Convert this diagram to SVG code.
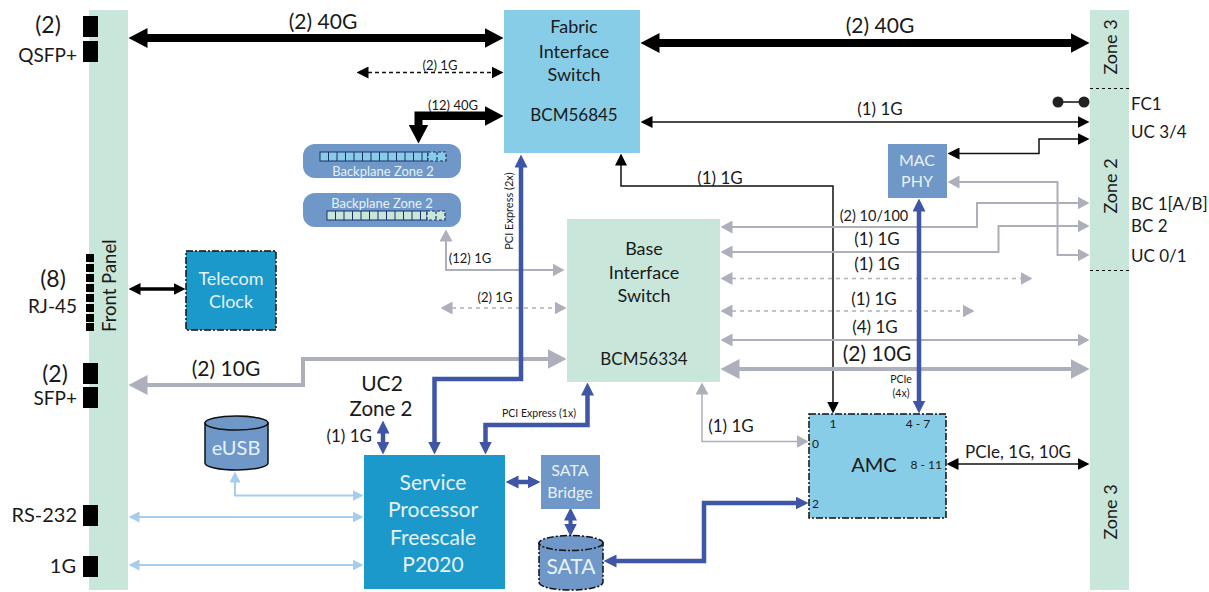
<svg xmlns="http://www.w3.org/2000/svg" width="1209" height="592" viewBox="0 0 1209 592">
<style>
text{font-family:"Lato","Noto Sans","Liberation Sans",sans-serif;fill:#1a1a1a;font-size:18px}
.m{text-anchor:middle}.e{text-anchor:end}
.w{fill:#e6f2f8}.sm{font-size:12px}.s13{font-size:13px}.l{font-size:19px}.n{font-size:17px}.xl{font-size:21px}.p{font-size:23px}.t{font-size:10.500px}
.bar{fill:#c9e6db}.blk{fill:#000}
.bd{stroke:#111;stroke-width:1.5;stroke-dasharray:7 2 2 2}
.cn{fill:none}
.k8{stroke:#000;stroke-width:8}.k4{stroke:#000;stroke-width:3.500}.k{stroke:#111;stroke-width:1.5}
.kd{stroke:#111;stroke-width:1.5;stroke-dasharray:4 3}
.g{stroke:#adb0ba;stroke-width:2}.g4{stroke:#adb0ba;stroke-width:4}.gd{stroke:#adb0ba;stroke-width:1.5;stroke-dasharray:4 4}
.b{stroke:#3f55a5;stroke-width:4.5}.lb{stroke:#a6cdec;stroke-width:2}
.cell{stroke:#1c2f6e;stroke-width:1}
.cd{stroke:#1c2f6e;stroke-width:1.2;stroke-dasharray:3 2}
</style>
<defs>
<marker id="kl" markerUnits="userSpaceOnUse" markerWidth="20" markerHeight="20" refX="0.5" refY="10" orient="auto-start-reverse"><path d="M0 0L19 10L0 20Z" fill="#000"/></marker>
<marker id="ks" markerUnits="userSpaceOnUse" markerWidth="12" markerHeight="12" refX="0.5" refY="6" orient="auto-start-reverse"><path d="M0 0L12 6L0 12Z" fill="#000"/></marker>
<marker id="gl" markerUnits="userSpaceOnUse" markerWidth="20" markerHeight="20" refX="0.5" refY="10" orient="auto-start-reverse"><path d="M0 0L19 10L0 20Z" fill="#adb0ba"/></marker>
<marker id="gs" markerUnits="userSpaceOnUse" markerWidth="12" markerHeight="13" refX="0.5" refY="6.5" orient="auto-start-reverse"><path d="M0 0L12 6.500L0 13Z" fill="#adb0ba"/></marker>
<marker id="bs" markerUnits="userSpaceOnUse" markerWidth="13" markerHeight="13" refX="0.5" refY="6.5" orient="auto-start-reverse"><path d="M0 0L13 6.500L0 13Z" fill="#3f55a5"/></marker>
<marker id="ls" markerUnits="userSpaceOnUse" markerWidth="11" markerHeight="11" refX="0.5" refY="5.5" orient="auto-start-reverse"><path d="M0 0L11 5.500L0 11Z" fill="#a6cdec"/></marker>
</defs>

<g id="front-panel">
<rect class="bar" x="89" y="10" width="39" height="580"/>
<text transform="translate(116 332) rotate(-90)" style="font-size:18.500px">Front Panel</text>
<rect class="blk" x="83" y="16" width="15" height="21"/><rect class="blk" x="83" y="41" width="15" height="21"/>
<rect class="blk" x="86" y="254" width="8" height="8"/><rect class="blk" x="86" y="264" width="8" height="8"/><rect class="blk" x="86" y="274" width="8" height="8"/><rect class="blk" x="86" y="284" width="8" height="8"/><rect class="blk" x="86" y="294" width="8" height="8"/><rect class="blk" x="86" y="304" width="8" height="8"/><rect class="blk" x="86" y="314" width="8" height="8"/><rect class="blk" x="86" y="323" width="8" height="8"/>
<rect class="blk" x="83" y="363" width="15" height="21"/><rect class="blk" x="83" y="387" width="15" height="21"/>
<rect class="blk" x="83" y="505" width="15" height="21"/><rect class="blk" x="83" y="556" width="15" height="21"/>
<text class="m p" x="48" y="33">(2)</text><text class="e l" x="77" y="62">QSFP+</text>
<text class="m p" x="53" y="287">(8)</text><text class="e l" x="77" y="313">RJ-45</text>
<text class="m p" x="55" y="382">(2)</text><text class="e l" x="77" y="405">SFP+</text>
<text class="e" x="77" y="522" style="font-size:20px">RS-232</text><text class="e" x="76" y="573" style="font-size:20px">1G</text>
</g>

<g id="right-panel">
<rect class="bar" x="1090" y="10" width="39" height="580"/>
<path d="M1090 88.500H1129M1090 270.500H1129" stroke="#111" stroke-width="1.200" stroke-dasharray="3 3" fill="none"/>
<text class="m" transform="translate(1117 47) rotate(-90)">Zone 3</text>
<text class="m" transform="translate(1117 186) rotate(-90)">Zone 2</text>
<text class="m" transform="translate(1117 512) rotate(-90)">Zone 3</text>
<text class="n" x="1131" y="110">FC1</text><text class="n" x="1131" y="138">UC 3/4</text><text class="n" x="1131" y="210">BC 1[A/B]</text><text class="n" x="1131" y="232">BC 2</text><text class="n" x="1131" y="262">UC 0/1</text>
</g>

<g id="connectors" class="cn">
<path class="k8" d="M147 38H485" marker-start="url(#kl)" marker-end="url(#kl)"/>
<path class="k8" d="M659 43H1071" marker-start="url(#kl)" marker-end="url(#kl)"/>
<path class="kd" d="M368 72.500H492" marker-start="url(#ks)" marker-end="url(#ks)"/>
<path class="k8" d="M485 115.500H418.500V125" marker-end="url(#kl)"/>
<path class="k8" d="M418.500 116H485" marker-end="url(#kl)"/>
<path class="k" d="M652 122H1078" marker-start="url(#ks)" marker-end="url(#ks)"/>
<path class="k" d="M959 153.500H1039V139H1078" marker-start="url(#ks)" marker-end="url(#ks)"/>
<path class="k" d="M1058 102H1084"/><circle cx="1058" cy="102" r="5.500" fill="#222"/><circle cx="1084" cy="102" r="5.500" fill="#222"/>
<path class="k" d="M621 165V186H833V402" marker-start="url(#ks)" marker-end="url(#ks)"/>
<path class="k" d="M958 464H1078" marker-start="url(#ks)" marker-end="url(#ks)"/>
<path class="k4" d="M140 289H174" marker-start="url(#ks)" marker-end="url(#ks)"/>
<path class="g" d="M959 182H1057.500V255H1078" marker-start="url(#gs)" marker-end="url(#gs)"/>
<path class="g" d="M732 227H977V203H1078" marker-start="url(#gs)" marker-end="url(#gs)"/>
<path class="g" d="M732 252H998.500V226H1078" marker-start="url(#gs)" marker-end="url(#gs)"/>
<path class="gd" d="M732 278.500H1021" marker-start="url(#gs)" marker-end="url(#gs)"/>
<path class="gd" d="M732 311H963" marker-start="url(#gs)" marker-end="url(#gs)"/>
<path class="g" d="M732 340H1078" marker-start="url(#gs)" marker-end="url(#gs)"/>
<path class="g4" d="M739 369H1071" marker-start="url(#gl)" marker-end="url(#gl)"/>
<path class="g4" d="M147 385H303V359H548" marker-start="url(#gl)" marker-end="url(#gl)"/>
<path class="g" d="M446 241V270H553" marker-start="url(#gs)" marker-end="url(#gs)"/>
<path class="gd" d="M452 308H555" marker-start="url(#gs)" marker-end="url(#gs)"/>
<path class="g" d="M702 394V441.500H797" style="stroke-width:1.5" marker-start="url(#gs)" marker-end="url(#gs)"/>
<path class="b" d="M521 167V379H434.500V442" marker-start="url(#bs)" marker-end="url(#bs)"/>
<path class="b" d="M587.500 395V425H485.500V442" marker-start="url(#bs)" marker-end="url(#bs)"/>
<path class="b" d="M919 211V401" marker-start="url(#bs)" marker-end="url(#bs)"/>
<path class="b" d="M383 433V442" marker-start="url(#bs)" marker-end="url(#bs)"/>
<path class="b" d="M518 482H528" marker-start="url(#bs)" marker-end="url(#bs)"/>
<path class="b" d="M570.500 520V524" marker-start="url(#bs)" marker-end="url(#bs)" style="stroke-width:4"/>
<path class="b" d="M616 561H704V503H796" marker-start="url(#bs)" marker-end="url(#bs)"/>
<path class="lb" d="M235 482V495.500H353" marker-start="url(#ls)" marker-end="url(#ls)"/>
<path class="lb" d="M139 517H353" marker-start="url(#ls)" marker-end="url(#ls)"/>
<path class="lb" d="M139 565H353" marker-start="url(#ls)" marker-end="url(#ls)"/>
</g>

<g id="fabric-switch">
<rect x="504" y="10" width="136" height="143" fill="#87cde8"/>
<text class="m" x="574" y="33">Fabric</text><text class="m" x="574" y="58">Interface</text><text class="m" x="574" y="81">Switch</text><text class="m n" x="574" y="121">BCM56845</text>
</g>
<g id="base-switch">
<rect class="bar" x="567" y="219" width="153" height="163"/>
<text class="m" x="644" y="255">Base</text><text class="m" x="644" y="279">Interface</text><text class="m" x="644" y="302">Switch</text><text class="m n" x="644" y="365">BCM56334</text>
</g>
<g id="telecom-clock">
<rect x="186" y="251" width="90" height="79" fill="#1c99cb" class="bd"/>
<text class="m w" x="231" y="285">Telecom</text><text class="m w" x="231" y="308">Clock</text>
</g>
<g id="mac-phy">
<rect x="888" y="144" width="59" height="54" fill="#6f97c8"/>
<text class="m w" x="917" y="166" style="font-size:16px">MAC</text><text class="m w" x="917" y="187" style="font-size:16px">PHY</text>
</g>
<g id="service-processor">
<rect x="364" y="455" width="141" height="134" fill="#1c99cb"/>
<text class="m w xl" x="433" y="490">Service</text><text class="m w xl" x="433" y="517">Processor</text><text class="m w xl" x="433" y="545">Freescale</text><text class="m w xl" x="433" y="572">P2020</text>
</g>
<g id="sata-bridge">
<rect x="541" y="455" width="59" height="54" fill="#6f97c8"/>
<text class="m w" x="570" y="476" style="font-size:16px">SATA</text><text class="m w" x="570" y="498" style="font-size:16px">Bridge</text>
</g>
<g id="amc">
<rect x="809" y="414" width="137" height="104" fill="#87cde8" class="bd"/>
<text class="m" x="874" y="472" style="font-size:20px">AMC</text>
<text class="m sm" x="833" y="428">1</text><text class="m sm" x="918" y="428">4 - 7</text><text class="sm" x="812" y="448">0</text><text class="sm" x="812" y="508">2</text><text class="e sm" x="942" y="469">8 - 11</text>
</g>
<g id="eusb">
<path d="M205 423V463C205 467 219 470 236.500 470S268 467 268 463V423Z" fill="#6f97c8" stroke="#111" stroke-width="1.500"/>
<ellipse cx="236.500" cy="423" rx="31.500" ry="7" fill="#6f97c8" stroke="#111" stroke-width="1.500"/>
<text class="m w" x="236" y="455" style="font-size:20px">eUSB</text>
</g>
<g id="sata">
<path d="M539 543V582C539 587 553 590 570.500 590S603 587 603 582V543Z" fill="#6f97c8" class="bd"/>
<ellipse cx="571" cy="543" rx="32" ry="7.500" fill="#6f97c8" class="bd"/>
<text class="m w xl" x="571" y="574">SATA</text>
</g>
<g id="backplane-1">
<rect x="303" y="144" width="158" height="34" rx="12" fill="#6f97c8"/>
<rect x="320" y="152" width="108" height="9" fill="#87cde8" class="cell"/>
<path class="cell" d="M328.500 152v9M337 152v9M345.500 152v9M354 152v9M362.500 152v9M371 152v9M379.500 152v9M388 152v9M396.500 152v9M405 152v9M413.500 152v9M422 152v9" fill="none"/>
<rect x="428" y="152" width="18" height="9" fill="#87cde8" class="cd"/>
<path class="cd" d="M437 152v9" fill="none"/>
<text class="m w s13" x="383" y="176">Backplane Zone 2</text>
</g>
<g id="backplane-2">
<rect x="303" y="193" width="158" height="34" rx="12" fill="#6f97c8"/>
<rect x="327" y="211" width="100" height="9" fill="#c9e6db" class="cell"/>
<path class="cell" d="M335.500 211v9M344 211v9M352.500 211v9M361 211v9M369.500 211v9M378 211v9M386.500 211v9M395 211v9M403.500 211v9M412 211v9M420.500 211v9" fill="none"/>
<rect x="427" y="211" width="18" height="9" fill="#c9e6db" class="cd"/>
<path class="cd" d="M436 211v9" fill="none"/>
<text class="m w s13" x="382" y="208">Backplane Zone 2</text>
</g>

<g id="labels">
<text class="m xl" x="323" y="29">(2) 40G</text>
<text class="m xl" x="880" y="33">(2) 40G</text>
<text class="m s13" x="440" y="70">(2) 1G</text>
<text class="m s13" x="453" y="110">(12) 40G</text>
<text class="m n" x="880" y="115">(1) 1G</text>
<text class="m n" x="720" y="184">(1) 1G</text>
<text class="m" x="874" y="221" style="font-size:14.500px">(2) 10/100</text>
<text class="m n" x="877" y="245">(1) 1G</text>
<text class="m n" x="877" y="270">(1) 1G</text>
<text class="m n" x="874" y="305">(1) 1G</text>
<text class="m n" x="875" y="333">(4) 1G</text>
<text class="m xl" x="877" y="361">(2) 10G</text>
<text class="m s13" x="470" y="263">(12) 1G</text>
<text class="m s13" x="495" y="302">(2) 1G</text>
<text class="m xl" x="226" y="376">(2) 10G</text>
<text class="m xl" x="382" y="391">UC2</text>
<text class="m" x="381" y="416" style="font-size:20.500px">Zone 2</text>
<text class="e n" x="372" y="442">(1) 1G</text>
<text class="m n" x="731" y="432">(1) 1G</text>
<text class="m" transform="translate(513 211) rotate(-90)" style="font-size:11px">PCI Express (2x)</text>
<text class="m t" x="539" y="417">PCI Express (1x)</text>
<text class="m t" x="901" y="383">PCIe</text><text class="m t" x="901" y="397">(4x)</text>
<text class="m n" x="1018" y="458">PCIe, 1G, 10G</text>
</g>
</svg>
